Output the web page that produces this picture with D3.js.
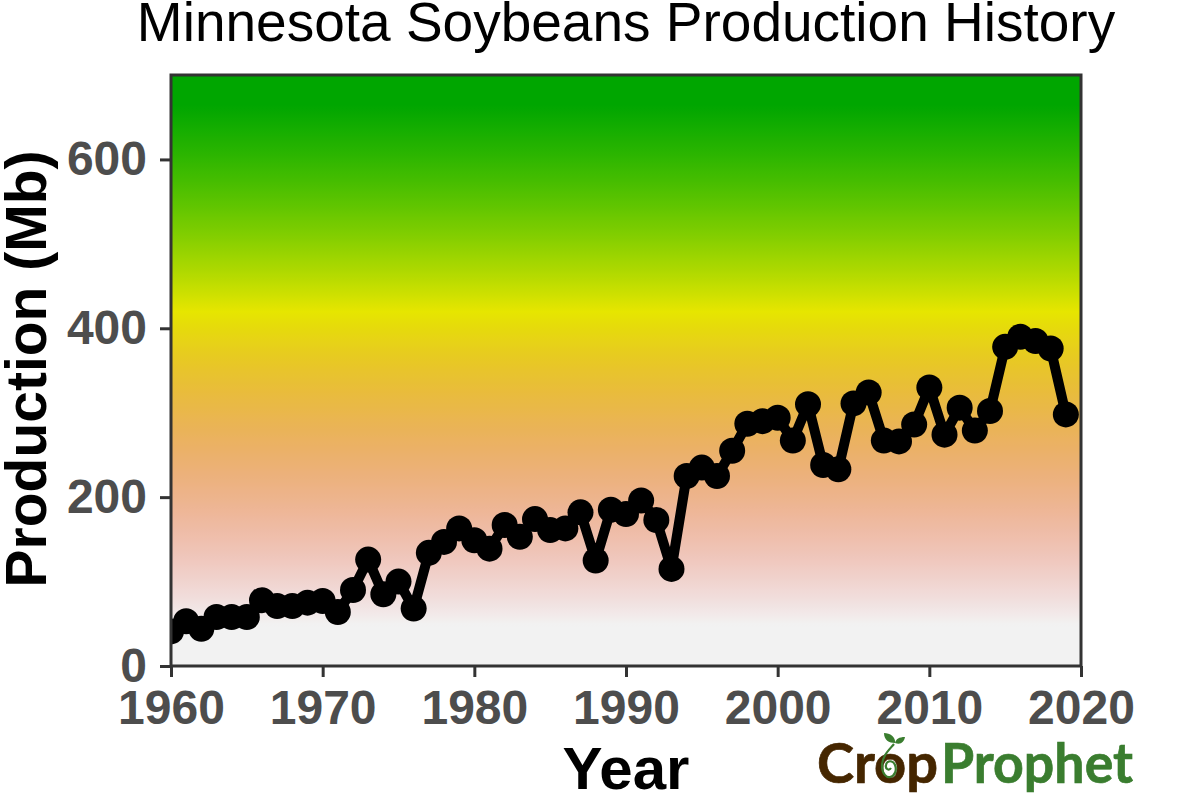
<!DOCTYPE html>
<html>
<head>
<meta charset="utf-8">
<script src="https://cdn.jsdelivr.net/npm/d3@7"></script>
<style>
  html, body { margin: 0; padding: 0; background: #fff; }
  text { font-family: "Liberation Sans", Arial, sans-serif; }
</style>
</head>
<body>
<div id="chart"></div>
<script>
// Production in million bushels
var years = [1960,1961,1962,1963,1964,1965,1966,1967,1968,1969,
             1970,1971,1972,1973,1974,1975,1976,1977,1978,1979,
             1980,1981,1982,1983,1984,1985,1986,1987,1988,1989,
             1990,1991,1992,1993,1994,1995,1996,1997,1998,1999,
             2000,2001,2002,2003,2004,2005,2006,2007,2008,2009,
             2010,2011,2012,2013,2014,2015,2016,2017,2018,2019]
var production = [41,53,44,58,58,58,78,71,71,75,
                  77,64,90,126,85,100,68,134,147,163,
                  149,139,167,153,174,161,163,182,125,185,
                  180,196,173,115,225,235,225,255,287,290,
                  294,267,310,238,233,311,324,267,266,286,
                  330,274,306,279,302,378,390,385,376,298]
var xTicks = [1960,1970,1980,1990,2000,2010,2020]
var yTicks = [0,200,400,600]

var width = 1200,
    height = 800
var margin = { top: 75, right: 119, bottom: 134, left: 171 }
var innerW = width - margin.left - margin.right,
    innerH = height - margin.top - margin.bottom

var svg = d3.select("#chart").append("svg")
    .attr("width", width)
    .attr("height", height)
    .style("display", "block")

var x = d3.scaleLinear().domain([1960, 2020]).range([margin.left, margin.left + innerW])
var y = d3.scaleLinear().domain([0, 700]).range([margin.top + innerH, margin.top])

// terrain style colour ramp: grey at the bottom, yellow, then green
var hue = d3.scaleLinear().domain([48, 420, 665]).range([0, 60, 120]).clamp(true)
var sat = d3.scaleLinear().domain([48, 420, 665]).range([0, 1, 1]).clamp(true)
var val = d3.scaleLinear().domain([48, 420, 665]).range([0.95, 0.9, 0.65]).clamp(true)

function rampColor(v) {
  var s = sat(v), h = hue(v), b = val(v)
  // hsv to rgb
  var f = function (n) {
    var k = (n + h / 60) % 6
    return Math.round(255 * (b - b * s * Math.max(0, Math.min(k, 4 - k, 1))))
  }
  return "rgb(" + f(5) + "," + f(3) + "," + f(1) + ")"
}

var defs = svg.append("defs")
var grad = defs.append("linearGradient")
    .attr("id", "bg")
    .attr("x1", 0).attr("x2", 0).attr("y1", 1).attr("y2", 0)
grad.selectAll("stop")
    .data(d3.range(0, 701, 5))
    .enter().append("stop")
    .attr("offset", function (d) { return d / 700 })
    .attr("stop-color", rampColor)

defs.append("clipPath").attr("id", "panel")
  .append("rect")
    .attr("x", x(1960)).attr("y", y(700))
    .attr("width", innerW).attr("height", innerH)

svg.append("rect")
    .attr("x", x(1960)).attr("y", y(700))
    .attr("width", innerW).attr("height", innerH)
    .attr("fill", "url(#bg)")

// line and points
var rows = d3.zip(years, production)
var line = d3.line()
    .x(function (d) { return x(d[0]) })
    .y(function (d) { return y(d[1]) })

var marks = svg.append("g").attr("clip-path", "url(#panel)")
marks.append("path")
    .datum(rows)
    .attr("d", line)
    .attr("fill", "none")
    .attr("stroke", "#000")
    .attr("stroke-width", 10)
    .attr("stroke-linejoin", "round")
marks.selectAll("circle")
    .data(rows)
    .enter().append("circle")
    .attr("cx", function (d) { return x(d[0]) })
    .attr("cy", function (d) { return y(d[1]) })
    .attr("r", 13)
    .attr("fill", "#000")

// panel border
svg.append("rect")
    .attr("x", x(1960)).attr("y", y(700))
    .attr("width", innerW).attr("height", innerH)
    .attr("fill", "none")
    .attr("stroke", "#333")
    .attr("stroke-width", 3)

// axes
var xAxis = svg.append("g")
    .attr("transform", "translate(0," + (margin.top + innerH) + ")")
    .call(d3.axisBottom(x).tickValues(xTicks).tickFormat(d3.format("d")).tickSize(11).tickPadding(13))
var yAxis = svg.append("g")
    .attr("transform", "translate(" + margin.left + ",0)")
    .call(d3.axisLeft(y).tickValues(yTicks).tickSize(11).tickPadding(13))

xAxis.select(".domain").remove()
yAxis.select(".domain").remove()
svg.selectAll(".tick line").attr("stroke", "#333").attr("stroke-width", 3)
svg.selectAll(".tick text")
    .attr("fill", "#4d4d4d")
    .style("font-family", '"Liberation Sans", Arial, sans-serif')
    .style("font-size", "48px")
    .style("font-weight", "bold")

// titles
svg.append("text")
    .attr("x", 626).attr("y", 41)
    .attr("text-anchor", "middle")
    .style("font-size", "55px")
    .text("Minnesota Soybeans Production History")

svg.append("text")
    .attr("x", 626).attr("y", 789)
    .attr("text-anchor", "middle")
    .style("font-size", "60px")
    .style("font-weight", "bold")
    .text("Year")

svg.append("text")
    .attr("transform", "translate(46,369) rotate(-90)")
    .attr("text-anchor", "middle")
    .style("font-size", "57px")
    .style("font-weight", "bold")
    .text("Production (Mb)")

// logo, bottom right
var logo = svg.append("g")
logo.append("text")
    .attr("x", 817).attr("y", 783)
    .attr("textLength", 121)
    .attr("lengthAdjust", "spacingAndGlyphs")
    .style("font-family", "Lato, sans-serif")
    .style("font-size", "56px")
    .style("font-weight", "bold")
    .attr("fill", "#452600")
    .attr("stroke", "#452600")
    .attr("stroke-width", 0.7)
    .text("Crop")
logo.append("text")
    .attr("x", 941).attr("y", 783)
    .attr("textLength", 192)
    .attr("lengthAdjust", "spacingAndGlyphs")
    .style("font-family", "Lato, sans-serif")
    .style("font-size", "56px")
    .style("font-weight", "bold")
    .attr("fill", "#3a7d2f")
    .attr("stroke", "#3a7d2f")
    .attr("stroke-width", 0.7)
    .text("Prophet")
// the sprout growing out of the o
logo.append("path")
    .attr("d", "M894 744 C889 750 882 756 882 766 C882 774 887 778 890 777 C895 776 897 770 895 765 C893 760 887 760 886 765 C885 769 889 771 891 768")
    .attr("fill", "none")
    .attr("stroke", "#3a7d2f")
    .attr("stroke-width", 2.2)
logo.append("path")
    .attr("d", "M895 743 C889 743 884 740 884 733 C890 733 896 737 895 743 Z M895 743 C896 739 899 737 905 737 C904 742 901 745 895 743 Z")
    .attr("fill", "#3a7d2f")
</script>
</body>
</html>
